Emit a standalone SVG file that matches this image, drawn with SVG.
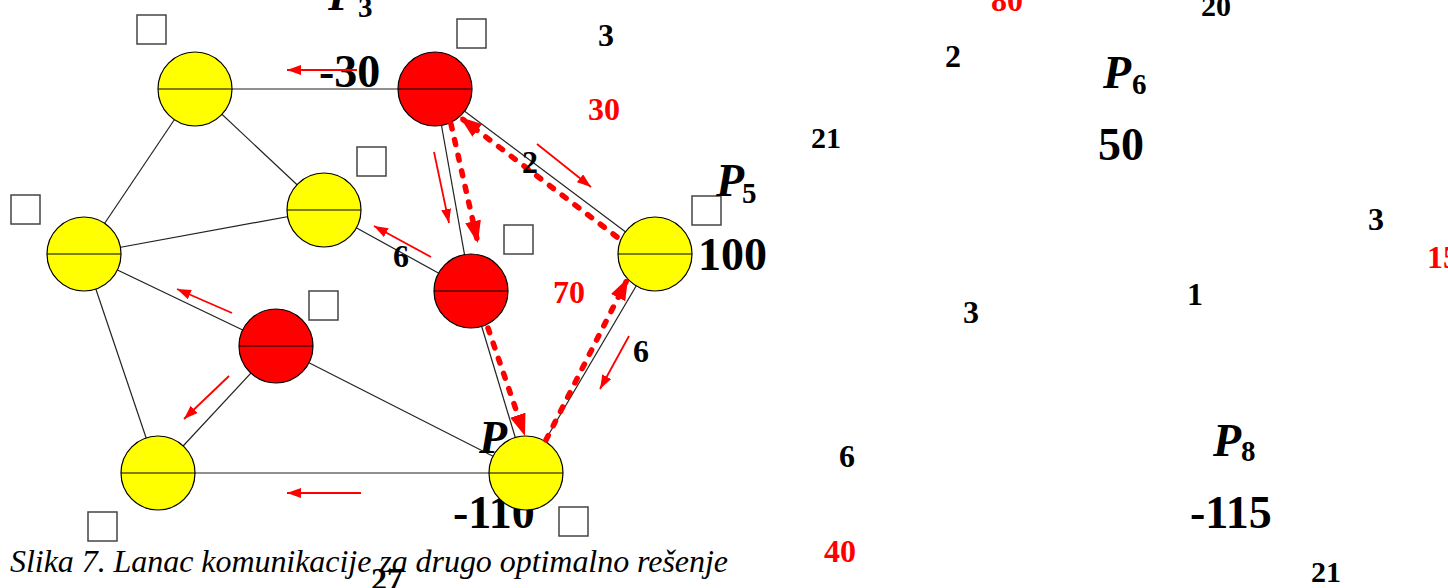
<svg xmlns="http://www.w3.org/2000/svg" width="1448" height="588" viewBox="0 0 1448 588">
<style>
.edge{stroke:#222;stroke-width:1.2;fill:none}
.yel{fill:#ffff00;stroke:#000;stroke-width:1.2}
.red{fill:#ff0000;stroke:#000;stroke-width:1.2}
.mid{stroke:#000;stroke-width:1.2}
.box{fill:#fff;stroke:#444;stroke-width:1.5}
.flow{stroke:#ff0000;stroke-width:1.8;fill:none}
.path{stroke:#ff0000;stroke-width:5.5;fill:none;stroke-dasharray:5 11;stroke-linecap:round}
.n{font-family:"Liberation Serif","Times New Roman",serif;font-weight:bold;fill:#000}
.r{fill:#ff0000}
.big{font-size:46px}
.sm{font-size:32px}
.xs{font-size:30px}
.p{font-family:"Liberation Serif","Times New Roman",serif;font-weight:bold;font-style:italic;font-size:46px;fill:#000}
.sub{font-family:"Liberation Serif","Times New Roman",serif;font-weight:bold;font-size:29px;fill:#000}
.cap{font-family:"Liberation Serif","Times New Roman",serif;font-style:italic;font-size:32px;fill:#000}
</style>
<defs>
<marker id="thin" markerUnits="userSpaceOnUse" markerWidth="14" markerHeight="10" refX="14" refY="5" orient="auto"><path d="M0,0 L14,5 L0,10 z" fill="#ff0000"/></marker>
<marker id="thick" markerUnits="userSpaceOnUse" markerWidth="22" markerHeight="16" refX="18" refY="8" orient="auto"><path d="M0,0 L22,8 L0,16 z" fill="#ff0000"/></marker>
</defs>
<g id="connectors">
<line class="edge" x1="195" y1="89" x2="435" y2="89"/>
<line class="edge" x1="195" y1="89" x2="84" y2="254"/>
<line class="edge" x1="195" y1="89" x2="324" y2="210"/>
<line class="edge" x1="84" y1="254" x2="324" y2="210"/>
<line class="edge" x1="84" y1="254" x2="276" y2="346"/>
<line class="edge" x1="84" y1="254" x2="158" y2="473"/>
<line class="edge" x1="276" y1="346" x2="158" y2="473"/>
<line class="edge" x1="276" y1="346" x2="526" y2="473"/>
<line class="edge" x1="158" y1="473" x2="526" y2="473"/>
<line class="edge" x1="324" y1="210" x2="471" y2="291"/>
<line class="edge" x1="435" y1="89" x2="471" y2="291"/>
<line class="edge" x1="435" y1="89" x2="655" y2="254"/>
<line class="edge" x1="471" y1="291" x2="526" y2="473"/>
<line class="edge" x1="655" y1="254" x2="526" y2="473"/>
</g>
<g id="labels-under">
<text class="n big" x="319" y="87">-30</text>
<text class="p" x="479" y="453">P</text>
<text class="n big" x="453" y="528">-110</text>
</g>
<g id="nA"><circle class="yel" cx="195" cy="89" r="37"/><line class="mid" x1="158" y1="89" x2="232" y2="89"/><rect class="box" x="137" y="15" width="29" height="29"/></g>
<g id="nB"><circle class="red" cx="435" cy="89" r="37"/><line class="mid" x1="398" y1="89" x2="472" y2="89"/><rect class="box" x="457" y="19" width="29" height="29"/></g>
<g id="nC"><circle class="yel" cx="324" cy="210" r="37"/><line class="mid" x1="287" y1="210" x2="361" y2="210"/><rect class="box" x="357" y="147" width="29" height="29"/></g>
<g id="nD"><circle class="yel" cx="84" cy="254" r="37"/><line class="mid" x1="47" y1="254" x2="121" y2="254"/><rect class="box" x="11" y="195" width="29" height="29"/></g>
<g id="nE"><circle class="red" cx="471" cy="291" r="37"/><line class="mid" x1="434" y1="291" x2="508" y2="291"/><rect class="box" x="504" y="225" width="29" height="29"/></g>
<g id="nF"><circle class="yel" cx="655" cy="254" r="37"/><line class="mid" x1="618" y1="254" x2="692" y2="254"/><rect class="box" x="692" y="196" width="29" height="29"/></g>
<g id="nG"><circle class="red" cx="276" cy="346" r="37"/><line class="mid" x1="239" y1="346" x2="313" y2="346"/><rect class="box" x="309" y="291" width="29" height="29"/></g>
<g id="nH"><circle class="yel" cx="158" cy="473" r="37"/><line class="mid" x1="121" y1="473" x2="195" y2="473"/><rect class="box" x="88" y="512" width="29" height="29"/></g>
<g id="nI"><circle class="yel" cx="526" cy="473" r="37"/><line class="mid" x1="489" y1="473" x2="563" y2="473"/><rect class="box" x="559" y="507" width="29" height="29"/></g>
<g id="flows">
<line class="path" x1="617" y1="237" x2="463" y2="119.5" marker-end="url(#thick)"/>
<line class="path" x1="451" y1="124" x2="477" y2="239" marker-end="url(#thick)"/>
<line class="path" x1="488" y1="328" x2="523.7" y2="432.2" marker-end="url(#thick)"/>
<line class="path" x1="546" y1="440" x2="626.2" y2="281.6" marker-end="url(#thick)"/>
<line class="flow" x1="357" y1="70" x2="287" y2="70" marker-end="url(#thin)"/>
<line class="flow" x1="537" y1="144" x2="591" y2="187" marker-end="url(#thin)"/>
<line class="flow" x1="434" y1="152" x2="449" y2="223" marker-end="url(#thin)"/>
<line class="flow" x1="431" y1="257" x2="374" y2="226" marker-end="url(#thin)"/>
<line class="flow" x1="232" y1="313" x2="177" y2="289" marker-end="url(#thin)"/>
<line class="flow" x1="229" y1="376" x2="184" y2="419" marker-end="url(#thin)"/>
<line class="flow" x1="361" y1="493" x2="287" y2="493" marker-end="url(#thin)"/>
<line class="flow" x1="629" y1="336" x2="600" y2="389" marker-end="url(#thin)"/>
</g>
<g id="labels">
<text class="p" x="328" y="10">P</text><text class="sub" x="358" y="17">3</text>
<text class="n sm" x="598" y="46">3</text>
<text class="n sm r" x="588" y="120">30</text>
<text class="n sm" x="522" y="173">2</text>
<text class="n sm" x="393" y="267">6</text>
<text class="p" x="716" y="196">P</text><text class="sub" x="742" y="203">5</text>
<text class="n big" x="698" y="270">100</text>
<text class="n sm r" x="553" y="303">70</text>
<text class="n sm" x="633" y="362">6</text>
<text class="n sm" x="371" y="590">27</text>
<text class="n sm r" x="991" y="11">80</text>
<text class="n xs" x="1201" y="16">20</text>
<text class="n sm" x="945" y="67">2</text>
<text class="p" x="1103" y="88">P</text><text class="sub" x="1132" y="94">6</text>
<text class="n xs" x="811" y="148">21</text>
<text class="n big" x="1098" y="160">50</text>
<text class="n sm" x="1368" y="230">3</text>
<text class="n sm r" x="1427" y="268">15</text>
<text class="n sm" x="1187" y="305">1</text>
<text class="n sm" x="963" y="323">3</text>
<text class="n sm" x="839" y="467">6</text>
<text class="p" x="1213" y="456">P</text><text class="sub" x="1241" y="461">8</text>
<text class="n big" x="1190" y="528">-115</text>
<text class="n sm r" x="824" y="562">40</text>
<text class="n xs" x="1311" y="582">21</text>
<text class="cap" x="10" y="572" textLength="718" lengthAdjust="spacing">Slika 7. Lanac komunikacije za drugo optimalno rešenje</text>
</g>
</svg>
